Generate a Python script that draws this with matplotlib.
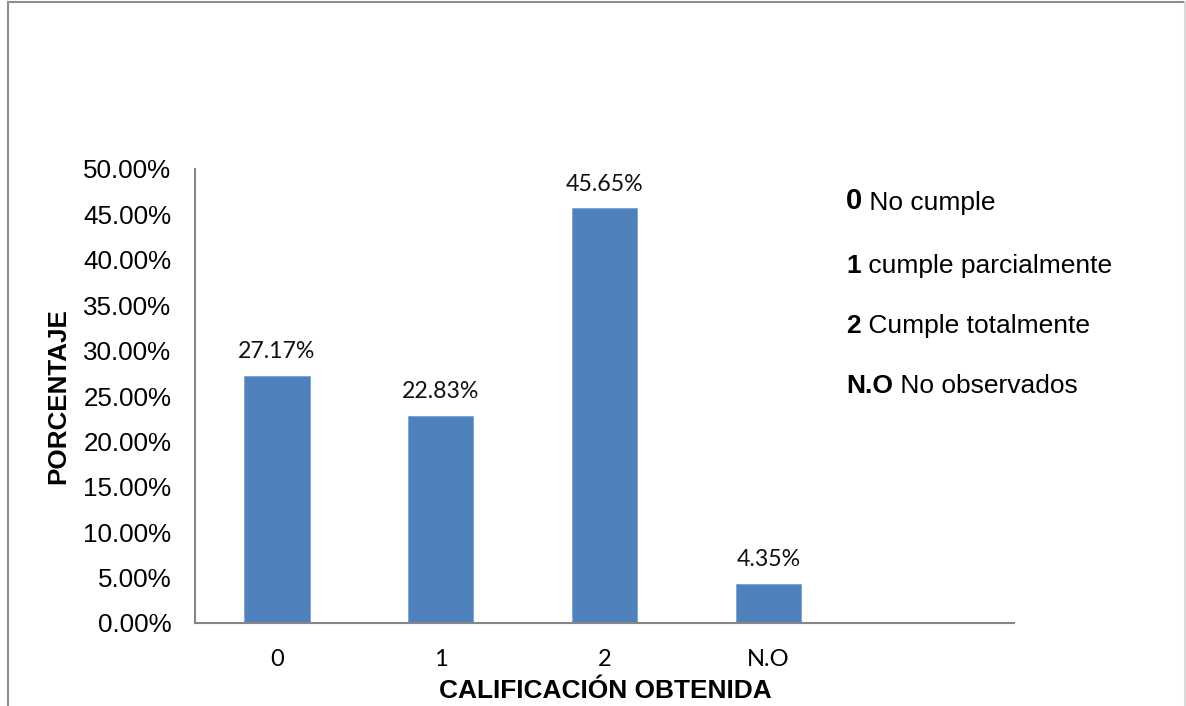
import matplotlib
matplotlib.use("Agg")
import matplotlib.pyplot as plt
from matplotlib.lines import Line2D
from matplotlib.ticker import FuncFormatter

categorias = ["0", "1", "2", "N.O"]
porcentajes = [27.17, 22.83, 45.65, 4.35]
yticks = [0, 5, 10, 15, 20, 25, 30, 35, 40, 45, 50]

claves = ["0", "1", "2", "N.O"]
descripciones = ["No cumple", "cumple parcialmente", "Cumple totalmente", "No observados"]

W, H = 1186, 706
fig = plt.figure(figsize=(W / 100, H / 100), dpi=100)
fig.patch.set_facecolor("white")

# marco del grafico (se corta por abajo)
fig.add_artist(Line2D([8 / W, 8 / W], [0, 1 - 1.5 / H], color="#8c8c8c", lw=1.5, transform=fig.transFigure))
fig.add_artist(Line2D([8 / W, 1185 / W], [1 - 1.5 / H, 1 - 1.5 / H], color="#8c8c8c", lw=1.5, transform=fig.transFigure))
fig.add_artist(Line2D([1185 / W, 1185 / W], [0, 1 - 1.5 / H], color="#d9d9d9", lw=1.5, transform=fig.transFigure))

ax = fig.add_axes([195 / W, 1 - 623 / H, (1014 - 195) / W, (623 - 169) / H])
x = list(range(len(categorias)))
ax.bar(x, porcentajes, width=0.4, color="#4f81bd", edgecolor="#7aa3d6", linewidth=0.6, zorder=2)

for xi, v in zip(x, porcentajes):
    ax.annotate(f"{v:.2f}%", xy=(xi, v), xytext=(0, 10), textcoords="offset points",
                ha="center", va="bottom", fontsize=16.7, family="Lato", color="#111111")

ax.set_xlim(-0.5, 4.5)
ax.set_ylim(0, 50)
ax.set_yticks(yticks)
ax.yaxis.set_major_formatter(FuncFormatter(lambda v, p: f"{v:.2f}%"))
ax.set_xticks(x)
ax.set_xticklabels(categorias, family="Lato", fontsize=17)
for lab in ax.get_yticklabels():
    lab.set_family("Liberation Sans")
    lab.set_fontsize(18.7)
ax.tick_params(axis="y", length=0, pad=17)
ax.tick_params(axis="x", length=0, pad=19)

for s in ["top", "right"]:
    ax.spines[s].set_visible(False)
for s in ["left", "bottom"]:
    ax.spines[s].set_color("#868686")
    ax.spines[s].set_linewidth(1.5)

fig.text(58 / W, 1 - 396 / H, "PORCENTAJE", rotation=90, ha="center", va="center",
         family="Liberation Sans", fontweight="bold", fontsize=18.7)
fig.text(605 / W, 1 - 691 / H, "CALIFICACIÓN OBTENIDA", ha="center", va="center",
         family="Liberation Sans", fontweight="bold", fontsize=18.9)

# leyenda de las calificaciones
bases = [209, 273, 333, 393]
for i, (k, d, b) in enumerate(zip(claves, descripciones, bases)):
    size = 21 if i == 0 else 19
    t = fig.text(846 / W, 1 - b / H, k, ha="left", va="baseline",
                 family="Liberation Sans", fontweight="bold", fontsize=size)
    ax.annotate(" " + d, xy=(1, 0), xycoords=t, xytext=(0, 0), textcoords="offset points",
                ha="left", va="bottom", family="Liberation Sans", fontsize=19,
                annotation_clip=False)

fig.savefig("out.png", dpi=100, facecolor="white")
